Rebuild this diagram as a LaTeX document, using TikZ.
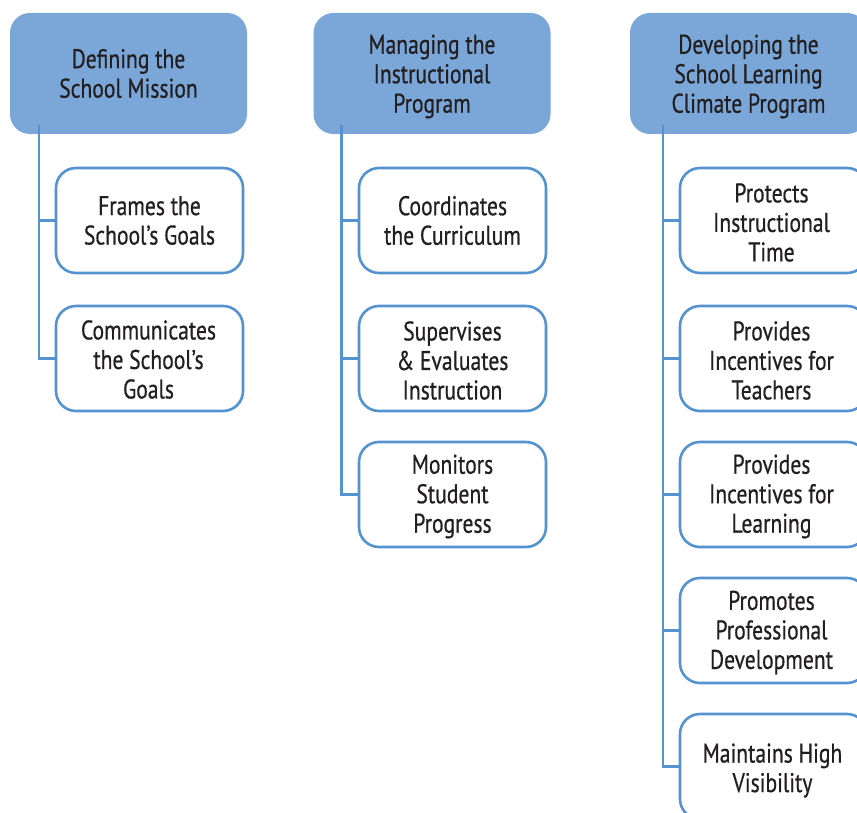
\documentclass[tikz,border=0pt]{standalone}
\usepackage{fontspec}
\setmainfont{PT Sans}[FakeStretch=0.8,FakeBold=0.6]
\definecolor{headfill}{RGB}{122,167,216}
\definecolor{edge}{RGB}{84,146,208}
\definecolor{ink}{RGB}{35,31,32}
\begin{document}
\begin{tikzpicture}[x=1pt,y=-1pt,
  every node/.style={font=\fontsize{27}{29.5}\selectfont, text=ink, align=center, inner sep=0pt},
  head/.style={rectangle, rounded corners=20pt, fill=headfill, minimum width=237pt, minimum height=121pt},
  item/.style={rectangle, rounded corners=20pt, draw=edge, line width=2.6pt, fill=white, minimum width=187pt, minimum height=105pt},
  conn/.style={draw=edge, line width=2.6pt}]
\clip (0,0) rectangle (857,813);
\fill[white] (0,0) rectangle (857,813);

% column headers
\node[head] (h1) at (128.5,73.5) {Defining the\\School Mission};
\node[head] (h2) at (432,73.5) {};
\node[head] (h3) at (748.5,73.5) {};
\node (h2t) at ([yshift=-3pt]h2.center) {Managing the\\Instructional\\Program};
\node (h3t) at ([yshift=-3pt]h3.center) {Developing the\\School Learning\\Climate Program};

% first column
\node[item] (a1) at (149.5,220.5) {Frames the\\School’s Goals};
\node[item] (a2) at (149.5,358.5) {};
\node (a2t) at ([yshift=-1pt,xshift=-1pt]a2.center) {Communicates\\the School’s\\Goals};

% second column
\node[item] (b1) at (452.5,220.5) {Coordinates\\the Curriculum};
\node[item] (b2) at (452.5,358.5) {};
\node[item] (b3) at (452.5,494.5) {};
\node (b2t) at ([yshift=-2pt]b2.center) {Supervises\\\& Evaluates\\Instruction};
\node (b3t) at ([yshift=-2pt]b3.center) {Monitors\\Student\\Progress};

% third column
\node[item] (c1) at (773.5,220.5) {};
\node[item] (c2) at (773.5,358.5) {};
\node[item] (c3) at (773.5,494.5) {};
\node[item] (c4) at (773.5,630.5) {};
\node[item] (c5) at (773.5,766.5) {};
\node (c1t) at ([yshift=-2pt,xshift=-2pt]c1.center) {Protects\\Instructional\\Time};
\node (c2t) at ([yshift=-2pt,xshift=-2pt]c2.center) {Provides\\Incentives for\\Teachers};
\node (c3t) at ([yshift=-2pt,xshift=-2pt]c3.center) {Provides\\Incentives for\\Learning};
\node (c4t) at ([yshift=-2pt,xshift=-2pt]c4.center) {Promotes\\Professional\\Development};
\node (c5t) at ([yshift=-4pt,xshift=-1pt]c5.center) {Maintains High\\Visibility};

% spine start points, just inside each header
\coordinate (s1) at ([xshift=29pt,yshift=9pt]h1.south west);
\coordinate (s2) at ([xshift=28pt,yshift=9pt]h2.south west);
\coordinate (s3) at ([xshift=33pt,yshift=9pt]h3.south west);

% connectors
\foreach \n in {a1,a2}{\draw[conn] (s1) |- (\n.west);}
\foreach \n in {b1,b2,b3}{\draw[conn] (s2) |- (\n.west);}
\foreach \n in {c1,c2,c3,c4,c5}{\draw[conn] (s3) |- (\n.west);}
\end{tikzpicture}
\end{document}
